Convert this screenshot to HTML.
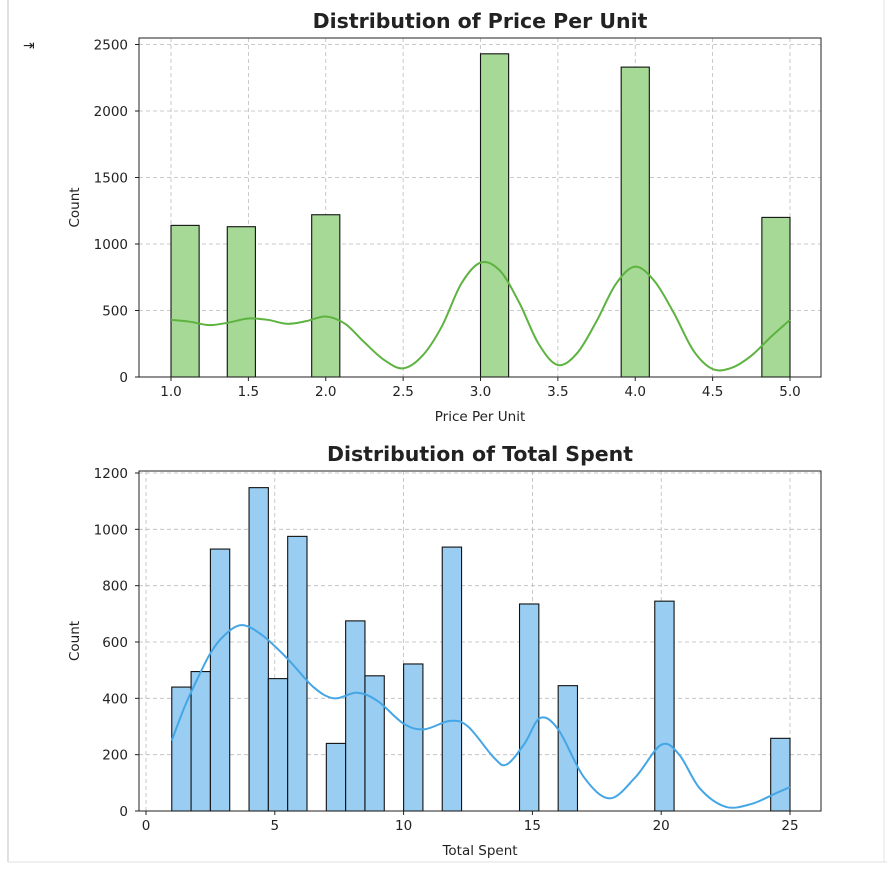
<!DOCTYPE html>
<html><head><meta charset="utf-8"><style>
body{margin:0;background:#fff;}
svg text{font-family:"DejaVu Sans","Liberation Sans",sans-serif;fill:#222;}
</style></head><body>
<svg id="s" width="887" height="874" xmlns="http://www.w3.org/2000/svg">
<rect x="0" y="0" width="887" height="874" fill="#fff"/>
<line x1="8" y1="0" x2="8" y2="862" stroke="#e0e0e0" stroke-width="2"/>
<line x1="884" y1="0" x2="884" y2="862" stroke="#e6e6e6" stroke-width="1"/>
<line x1="8" y1="862" x2="887" y2="862" stroke="#e0e0e0" stroke-width="1"/>
<text x="23" y="50" font-size="14" fill="#555">⇥</text>
<g id="c1"></g><g id="c2"></g>
</svg>
<script>
// Chart 1 data
const priceBinStart = 1, priceBinCount = 22, priceBinEnd = 5;
const priceCounts = [1140,0,1130,0,0,1220,0,0,0,0,0,2430,0,0,0,0,2330,0,0,0,0,1200];
const priceKdeX = [1.0,1.125,1.25,1.375,1.5,1.625,1.75,1.875,2.0,2.125,2.25,2.375,2.5,2.625,2.75,2.875,3.0,3.125,3.25,3.375,3.5,3.625,3.75,3.875,4.0,4.125,4.25,4.375,4.5,4.625,4.75,4.875,5.0];
const priceKdeY = [430,415,390,410,440,430,400,420,455,400,260,130,65,160,380,700,860,800,560,250,90,180,420,700,830,720,480,200,60,70,160,300,430];
const priceXTicks = ["1.0","1.5","2.0","2.5","3.0","3.5","4.0","4.5","5.0"];
const priceYTicks = [0,500,1000,1500,2000,2500];
// Chart 2 data
const spentBinStart = 1, spentBinCount = 32, spentBinEnd = 25;
const spentCounts = [440,495,930,0,1148,470,975,0,240,675,480,0,522,0,937,0,0,0,735,0,445,0,0,0,0,745,0,0,0,0,0,258];
const spentKdeX = [1,1.5,2,2.5,3,3.7,4.5,5.5,6.5,7.3,8.2,9,10,10.8,11.8,12.5,13.5,14,14.7,15.3,16,17,18,19,20,20.7,21.5,22.5,23.5,24.5,25];
const spentKdeY = [250,370,470,560,620,660,625,540,440,400,420,390,310,290,320,300,190,165,240,330,290,120,45,120,235,200,80,15,25,65,85];
const spentXTicks = [0,5,10,15,20,25];
const spentYTicks = [0,200,400,600,800,1000,1200];

const NS="http://www.w3.org/2000/svg";
function mk(p,t,a){const e=document.createElementNS(NS,t);for(const k in a)e.setAttribute(k,a[k]);p.appendChild(e);return e;}
function smooth(pts){let d=`M${pts[0][0]},${pts[0][1]}`;for(let i=0;i<pts.length-1;i++){const p0=pts[i-1]||pts[i],p1=pts[i],p2=pts[i+1],p3=pts[i+2]||p2;d+=` C${p1[0]+(p2[0]-p0[0])/6},${p1[1]+(p2[1]-p0[1])/6} ${p2[0]-(p3[0]-p1[0])/6},${p2[1]-(p3[1]-p1[1])/6} ${p2[0]},${p2[1]}`;}return d;}

function chart(g,o){
 const X=v=>o.px0+(v-o.x0)*(o.px1-o.px0)/(o.x1-o.x0);
 const Y=v=>o.py0+(v-o.y0)*(o.py1-o.py0)/(o.y1-o.y0);
 o.xt.forEach(t=>{const x=X(+t);const l=mk(g,'line',{x1:x,x2:x,y1:o.top,y2:o.bot,stroke:'#bbb','stroke-dasharray':'4,3','stroke-width':0.8});
  
  });
 o.yt.forEach(t=>{const y=Y(t);const l=mk(g,'line',{x1:o.left,x2:o.right,y1:y,y2:y,stroke:'#bbb','stroke-dasharray':'4,3','stroke-width':0.8});
  
  });
 const w=(o.be-o.bs)/o.counts.length;
 o.counts.forEach((c,i)=>{if(!c)return;const x0=X(o.bs+i*w),x1=X(o.bs+(i+1)*w);
  const r=mk(g,'rect',{x:x0,y:Y(c),width:x1-x0,height:Y(0)-Y(c),fill:o.fill,stroke:'#111','stroke-width':1.1});
  
  });
 const p=mk(g,'path',{d:smooth(o.kx.map((v,i)=>[X(v),Y(o.ky[i])])),fill:'none',stroke:o.line,'stroke-width':2});
 
 
 const f=mk(g,'rect',{x:o.left,y:o.top,width:o.right-o.left,height:o.bot-o.top,fill:'none',stroke:'#222','stroke-width':1});
 
 
 o.xt.forEach(t=>{const x=X(+t);mk(g,'line',{x1:x,x2:x,y1:o.bot,y2:o.bot+4,stroke:'#222'});
  const tx=mk(g,'text',{x:x,y:o.bot+19,'text-anchor':'middle','font-size':13.5});tx.textContent=t;
  
  });
 o.yt.forEach(t=>{const y=Y(t);mk(g,'line',{x1:o.left-4,x2:o.left,y1:y,y2:y,stroke:'#222'});
  const tx=mk(g,'text',{x:o.left-11,y:y+5,'text-anchor':'end','font-size':13.5});tx.textContent=t;
  
  });
 const ti=mk(g,'text',{x:(o.left+o.right)/2,y:o.top-10,'text-anchor':'middle','font-size':20.5,'font-weight':'bold'});ti.textContent=o.title;
 
 
 const xl=mk(g,'text',{x:(o.left+o.right)/2,y:o.bot+44,'text-anchor':'middle','font-size':13.5});xl.textContent=o.xlabel;
 
 
 const yc=(o.top+o.bot)/2;
 const yl=mk(g,'text',{x:o.left-60,y:yc,'text-anchor':'middle','font-size':13.5,transform:`rotate(-90 ${o.left-60} ${yc})`});yl.textContent='Count';
 
 
}
chart(document.getElementById('c1'),{left:139,right:821,top:38,bot:377,px0:171,px1:790,x0:1,x1:5,py0:377,py1:111,y0:0,y1:2000,
 xt:priceXTicks,yt:priceYTicks,counts:priceCounts,bs:priceBinStart,be:priceBinEnd,kx:priceKdeX,ky:priceKdeY,
 fill:'#a6d996',line:'#5db340',title:'Distribution of Price Per Unit',xlabel:'Price Per Unit'});
chart(document.getElementById('c2'),{left:139,right:821,top:471,bot:811,px0:146,px1:790,x0:0,x1:25,py0:811,py1:473,y0:0,y1:1200,
 xt:spentXTicks.map(String),yt:spentYTicks,counts:spentCounts,bs:spentBinStart,be:spentBinEnd,kx:spentKdeX,ky:spentKdeY,
 fill:'#99cdf1',line:'#44a6e6',title:'Distribution of Total Spent',xlabel:'Total Spent'});
</script>
</body></html>
